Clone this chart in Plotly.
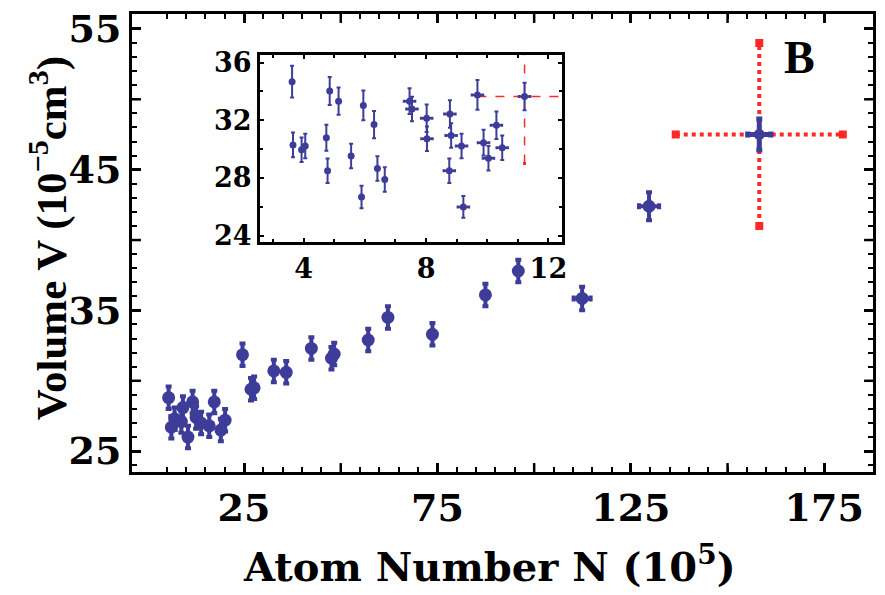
import plotly.graph_objects as go

BLUE = "rgb(61,61,153)"
RED = "rgb(255,40,40)"

# ---- main data ----
main_x = [5.5, 6.2, 7.05, 8.8, 9.2, 10.5, 11.7, 12.6, 13.9, 16.0, 17.3, 20.1, 19.0,
          24.6, 26.8, 27.6, 32.7, 35.9, 42.4, 47.6, 48.3, 57.1, 62.2, 73.7,
          87.4, 95.9, 112.4, 129.7]
main_y = [28.8, 26.7, 27.3, 27.1, 28.1, 26.0, 28.5, 27.4, 27.0, 26.8, 28.5, 27.2, 26.5,
          31.85, 29.4, 29.5, 30.7, 30.6, 32.3, 31.6, 31.9, 32.9, 34.5, 33.3,
          36.1, 37.8, 35.85, 42.4]
main_ey = [0.8] * 26 + [0.83, 1.0]
main_ex = [0] * 26 + [2.2, 2.6]

big_x = [158.2]
big_y = [47.5]
big_ex = [3.0]
big_ey = [1.1]
big_red_ex = 21.6
big_red_ey = 6.5

# ---- inset data ----
ins_x = [3.62, 3.65, 3.93, 4.05, 4.74, 4.78, 4.85, 5.14, 5.55, 5.89, 5.95, 6.30, 6.41, 6.65,
         7.46, 7.54, 8.02, 8.03, 8.78, 8.82, 8.76, 9.16, 9.22, 9.68, 9.88, 10.04, 10.30,
         10.49]
ins_y = [34.68, 30.29, 29.95, 30.22, 30.79, 28.5, 34.03, 33.33, 29.53, 26.67, 33.03, 31.7,
         28.66, 27.89, 33.33, 32.78, 32.14, 30.72, 32.44, 30.95, 28.5, 30.22, 25.99, 33.76,
         30.45, 29.37, 31.66, 30.1]
ins_ey = [1.1, 0.86, 0.85, 0.85, 0.9, 0.85, 0.97, 0.95, 0.85, 0.78, 1.03, 0.95, 0.85, 0.85,
          0.9, 0.85, 0.95, 0.85, 0.95, 0.85, 0.85, 0.85, 0.75, 1.03, 0.9, 0.85, 0.95, 0.85]
ins_ex = [0] * 14 + [0.18] * 14
ins_big_x = [11.22]
ins_big_y = [33.65]
ins_big_ex = [0.18]
ins_big_ey = [0.95]
ins_red_ex = 1.54
ins_red_ey = 4.65

x_label_vals = [25, 75, 125, 175]
x_unlabeled_major = [50, 100, 150]
y_label_vals = [25, 35, 45, 55]
y_unlabeled_major = [30, 40, 50]

X_RANGE = [-3.97, 187.6]
Y_RANGE = [23.52, 56.06]
PLOT_W, PLOT_H = 747, 461
MAJ_LEN = 9

fig = go.Figure()

# red dotted error cross (main)
fig.add_trace(go.Scatter(x=[big_x[0] - big_red_ex, big_x[0] + big_red_ex], y=[big_y[0], big_y[0]],
                         mode="lines+markers", line=dict(color=RED, width=4, dash="dot"),
                         marker=dict(symbol="square", size=8, color=RED), hoverinfo="skip",
                         showlegend=False))
fig.add_trace(go.Scatter(x=[big_x[0], big_x[0]], y=[big_y[0] - big_red_ey, big_y[0] + big_red_ey],
                         mode="lines+markers", line=dict(color=RED, width=4, dash="dot"),
                         marker=dict(symbol="square", size=8, color=RED), hoverinfo="skip",
                         showlegend=False))

fig.add_trace(go.Scatter(x=main_x, y=main_y, mode="markers",
                         marker=dict(size=13, color=BLUE),
                         error_y=dict(type="data", array=main_ey, color=BLUE, thickness=4, width=3),
                         error_x=dict(type="data", array=main_ex, color=BLUE, thickness=4, width=3),
                         showlegend=False))
fig.add_trace(go.Scatter(x=big_x, y=big_y, mode="markers",
                         marker=dict(size=11, color=BLUE),
                         error_y=dict(type="data", array=big_ey, color=BLUE, thickness=5, width=3),
                         error_x=dict(type="data", array=big_ex, color=BLUE, thickness=5, width=3),
                         showlegend=False))

# inset red dashed
fig.add_trace(go.Scatter(x=[ins_big_x[0] - ins_red_ex, ins_big_x[0] + ins_red_ex],
                         y=[ins_big_y[0], ins_big_y[0]], xaxis="x2", yaxis="y2",
                         mode="lines+markers", line=dict(color=RED, width=1.5, dash="dash"),
                         marker=dict(symbol="square", size=3, color=RED), hoverinfo="skip",
                         showlegend=False))
fig.add_trace(go.Scatter(x=[ins_big_x[0], ins_big_x[0]],
                         y=[ins_big_y[0] - ins_red_ey, ins_big_y[0] + ins_red_ey], xaxis="x2", yaxis="y2",
                         mode="lines+markers", line=dict(color=RED, width=1.5, dash="dash"),
                         marker=dict(symbol="square", size=3, color=RED), hoverinfo="skip",
                         showlegend=False))
fig.add_trace(go.Scatter(x=ins_x + ins_big_x, y=ins_y + ins_big_y, xaxis="x2", yaxis="y2",
                         mode="markers", marker=dict(size=7, color=BLUE),
                         error_y=dict(type="data", array=ins_ey + ins_big_ey, color=BLUE, thickness=2, width=2),
                         error_x=dict(type="data", array=ins_ex + ins_big_ex, color=BLUE, thickness=2.5, width=1.5),
                         showlegend=False))

# unlabeled major ticks (long) drawn as short frame marks
shapes = []
hx = MAJ_LEN / PLOT_H
for v in x_unlabeled_major:
    for y0, y1 in ((0, hx), (1, 1 - hx)):
        shapes.append(dict(type="line", xref="x", yref="paper", x0=v, x1=v, y0=y0, y1=y1,
                           line=dict(color="black", width=2.5), layer="above"))
hy = MAJ_LEN / PLOT_W
for v in y_unlabeled_major:
    for x0, x1 in ((0, hy), (1, 1 - hy)):
        shapes.append(dict(type="line", xref="paper", yref="y", x0=x0, x1=x1, y0=v, y1=v,
                           line=dict(color="black", width=2.5), layer="above"))

tickfont = dict(family="DejaVu Serif", size=38, color="black", weight="bold")
insfont = dict(family="DejaVu Serif", size=27, color="black", weight="bold")

fig.update_layout(
    width=885, height=595,
    margin=dict(l=132, r=6, t=11, b=123),
    paper_bgcolor="white", plot_bgcolor="white",
    shapes=shapes,
    xaxis=dict(range=X_RANGE, showgrid=False, zeroline=False,
               showline=True, linecolor="black", linewidth=3, mirror="allticks",
               ticks="inside", ticklen=MAJ_LEN, tickwidth=2.5, tickcolor="black",
               tickvals=x_label_vals, tickfont=tickfont,
               minor=dict(tickvals=list(range(5, 176, 5)), ticks="inside", ticklen=5,
                          tickwidth=2, tickcolor="black")),
    yaxis=dict(range=Y_RANGE, showgrid=False, zeroline=False,
               showline=True, linecolor="black", linewidth=3, mirror="allticks",
               ticks="inside", ticklen=MAJ_LEN, tickwidth=2.5, tickcolor="black",
               tickvals=y_label_vals, tickfont=tickfont,
               minor=dict(tickvals=list(range(24, 57)), ticks="inside", ticklen=5,
                          tickwidth=2, tickcolor="black")),
    xaxis2=dict(domain=[0.1727, 0.5797], anchor="y2", range=[2.57, 12.43],
                showgrid=False, zeroline=False, showline=True, linecolor="black",
                linewidth=3, mirror="allticks", ticks="inside", ticklen=4, tickwidth=2,
                tickcolor="black", tickvals=[4, 8, 12], tickfont=insfont,
                minor=dict(tickvals=list(range(3, 13)), ticks="inside", ticklen=3,
                           tickwidth=1.5, tickcolor="black")),
    yaxis2=dict(domain=[0.5017, 0.9095], anchor="x2", range=[23.54, 36.5],
                showgrid=False, zeroline=False, showline=True, linecolor="black",
                linewidth=3, mirror="allticks", ticks="inside", ticklen=4, tickwidth=2,
                tickcolor="black", tickvals=[24, 28, 32, 36], tickfont=insfont,
                minor=dict(tickvals=list(range(24, 37, 2)), ticks="inside", ticklen=3,
                           tickwidth=1.5, tickcolor="black")),
    annotations=[
        dict(text="Atom Number N (10<sup>5</sup>)", xref="paper", yref="paper",
             x=0.482, y=-0.2017, xanchor="center", yanchor="middle", showarrow=False,
             font=dict(family="DejaVu Serif", size=40, color="black", weight="bold")),
        dict(text="Volume V (10<sup>\u22125</sup>cm<sup>3</sup>)", xref="paper", yref="paper",
             x=-0.1124, y=0.51, xanchor="center", yanchor="middle", showarrow=False,
             textangle=-90,
             font=dict(family="Liberation Serif", size=43, color="black", weight="bold")),
        dict(text="B", xref="paper", yref="paper", x=(805 - 132) / 747, y=(472 - 55) / 461,
             xanchor="center", yanchor="middle", showarrow=False,
             font=dict(family="Liberation Serif", size=46, color="black", weight="bold")),
    ],
)

fig.write_html("out.html")
